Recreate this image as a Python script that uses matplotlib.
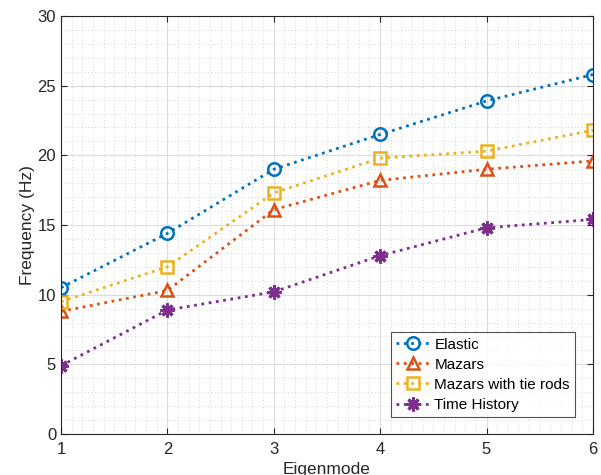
import matplotlib
matplotlib.use("Agg")
import matplotlib.pyplot as plt
from matplotlib.ticker import MultipleLocator

plt.rcParams['font.family'] = ['Liberation Sans', 'DejaVu Sans']

modes = [1, 2, 3, 4, 5, 6]
elastic = [10.5, 14.4, 19.0, 21.5, 23.9, 25.8]
mazars = [8.8, 10.3, 16.1, 18.2, 19.0, 19.6]
tie_rods = [9.5, 12.0, 17.3, 19.8, 20.3, 21.8]
time_history = [4.9, 8.9, 10.2, 12.8, 14.8, 15.4]
labels = ['Elastic', 'Mazars', 'Mazars with tie rods', 'Time History']

colors = ['#0072BD', '#D95319', '#EDB120', '#7E2F8E']
markers = ['o', '^', 's', (8, 2, 0)]

fig = plt.figure(figsize=(6.01, 4.75), dpi=100)
ax = fig.add_axes([0.1015, 0.0863, 0.885, 0.88])

series = [elastic, mazars, tie_rods, time_history]
for s, c, m, lab in zip(series, colors, markers, labels):
    star = m == (8, 2, 0)
    ax.plot(modes, s, linestyle=':', color=c, linewidth=2, marker=m,
            markersize=10 if star else 9, markerfacecolor=c if star else 'none',
            markeredgecolor=c, markeredgewidth=2.2 if star else 1.8, label=lab)

ax.set_xlim(1, 6)
ax.set_ylim(0, 30)
ax.xaxis.set_major_locator(MultipleLocator(1))
ax.yaxis.set_major_locator(MultipleLocator(5))
ax.xaxis.set_minor_locator(MultipleLocator(0.1))
ax.yaxis.set_minor_locator(MultipleLocator(1))
ax.grid(which='major', color='#dcdcdc', linewidth=0.8, linestyle='-')
ax.grid(which='minor', color='#c8c8c8', linewidth=0.6, linestyle=(0, (1, 3)))
ax.set_axisbelow(True)
ax.tick_params(which='both', direction='in', top=True, right=True,
               colors='#262626', labelsize=12, length=4)
ax.tick_params(which='minor', length=0)
ax.tick_params(axis='x', pad=6)
for sp in ax.spines.values():
    sp.set_color('#262626')
    sp.set_linewidth(0.8)
for t in ax.get_xticklabels() + ax.get_yticklabels():
    t.set_color('#262626')

ax.set_xlabel('Eigenmode', fontsize=12.5, color='#262626', labelpad=3)
ax.set_ylabel('Frequency (Hz)', fontsize=12.5, color='#262626', labelpad=2)

leg = ax.legend(loc='lower right', bbox_to_anchor=(0.967, 0.04), fontsize=11,
                frameon=True, fancybox=False, edgecolor='#262626',
                handlelength=2.2, handletextpad=0.3, borderpad=0.35,
                labelspacing=0.4, borderaxespad=0)
leg.get_frame().set_linewidth(0.8)

fig.savefig('out.png', dpi=100, facecolor='white')
